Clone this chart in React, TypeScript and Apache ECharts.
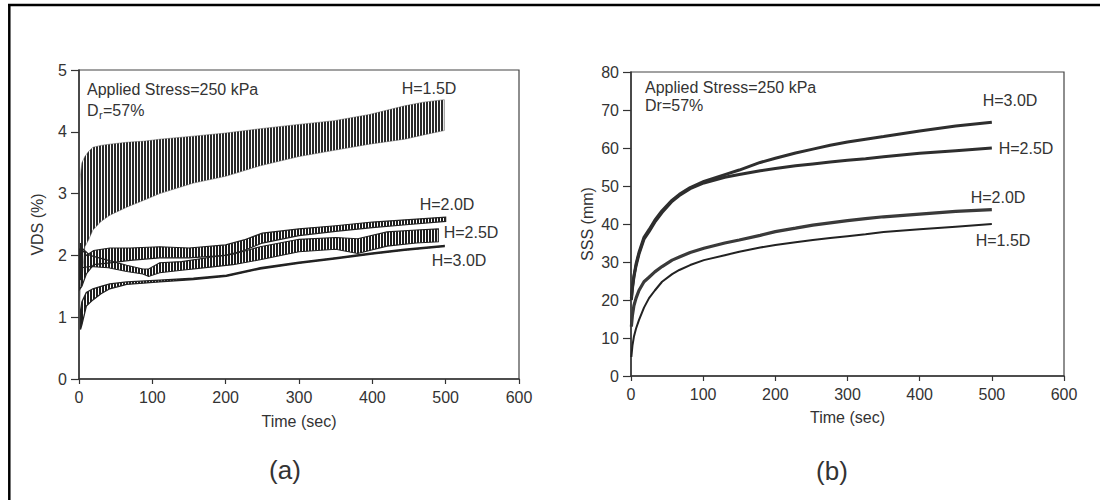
import React, { useEffect, useRef } from "react";
import * as echarts from "echarts";

// ---------- (a) VDS (%) vs time: oscillation envelopes ----------
const tA15 = [0.5, 2, 4, 8, 13, 19, 30, 42, 65, 90, 110, 156, 200, 247, 300, 348, 396, 444, 470, 498];
const hiA15 = [3.0, 3.3, 3.5, 3.6, 3.68, 3.75, 3.78, 3.8, 3.83, 3.85, 3.88, 3.93, 3.98, 4.05, 4.12, 4.18, 4.28, 4.42, 4.48, 4.52];
const loA15 = [1.0, 1.5, 1.6, 2.14, 2.25, 2.41, 2.55, 2.65, 2.78, 2.9, 3.0, 3.17, 3.28, 3.45, 3.6, 3.7, 3.8, 3.88, 3.95, 4.02];

const tA20 = [1, 4, 10, 20, 42, 70, 110, 150, 200, 225, 250, 300, 350, 400, 450, 500];
const hiA20 = [2.1, 2.1, 2.0, 2.08, 2.12, 2.12, 2.14, 2.12, 2.17, 2.25, 2.36, 2.43, 2.48, 2.54, 2.58, 2.62];
const loA20 = [1.45, 1.5, 1.7, 1.85, 1.88, 1.92, 1.96, 1.96, 2.0, 2.08, 2.2, 2.32, 2.39, 2.45, 2.5, 2.55];

const tA25 = [2, 4, 15, 40, 65, 87, 95, 110, 140, 179, 210, 247, 300, 350, 380, 420, 460, 490];
const hiA25 = [2.2, 2.12, 2.0, 1.92, 1.84, 1.78, 1.78, 1.88, 1.9, 1.97, 2.02, 2.14, 2.26, 2.29, 2.27, 2.38, 2.41, 2.43];
const loA25 = [1.6, 1.8, 1.82, 1.8, 1.74, 1.7, 1.66, 1.72, 1.76, 1.81, 1.85, 1.93, 2.06, 2.1, 2.03, 2.15, 2.2, 2.22];

const tA30 = [2, 4, 10, 19, 30, 42, 65, 110, 156, 201, 247, 300, 348, 400, 444, 498];
const hiA30 = [1.1, 1.25, 1.4, 1.46, 1.5, 1.54, 1.57, 1.6, 1.63, 1.68, 1.8, 1.89, 1.96, 2.04, 2.1, 2.16];
const loA30 = [0.8, 0.88, 1.18, 1.28, 1.38, 1.46, 1.53, 1.57, 1.61, 1.66, 1.78, 1.87, 1.94, 2.02, 2.08, 2.14];

// ---------- (b) SSS (mm) vs time ----------
const timeB = [0.5, 2, 4, 7, 11, 18, 25, 33, 43, 57, 67, 82, 101, 130, 150, 179, 200, 228, 252, 276, 300, 325, 350, 400, 450, 500];
const sssH15 = [5, 8, 10.3, 12.5, 14.7, 18, 20.5, 22.5, 24.8, 26.8, 27.9, 29.2, 30.5, 31.8, 32.7, 33.8, 34.5, 35.2, 35.8, 36.3, 36.8, 37.3, 37.9, 38.6, 39.3, 40];
const sssH20 = [13, 16, 18.5, 20.5, 22.5, 24.8, 26, 27.4, 28.8, 30.5, 31.3, 32.5, 33.6, 35, 35.8, 37, 38, 38.9, 39.7, 40.3, 40.9, 41.4, 41.9, 42.6, 43.3, 43.8];
const sssH25 = [20, 23, 26, 29, 32, 36, 38, 40.5, 43, 46, 47.5, 49.3, 50.8, 52.3, 53, 54, 54.6, 55.3, 55.8, 56.3, 56.8, 57.2, 57.7, 58.6, 59.3, 60];
const sssH30 = [20.5, 23.5, 26.3, 29.5, 32.5, 36.5, 38.5, 41, 43.5, 46.3, 47.8, 49.6, 51.2, 53, 54.2, 56.2, 57.3, 58.7, 59.7, 60.7, 61.6, 62.3, 63, 64.5, 65.8, 66.8];

const xTicksMax = 600;
const FONT = "'Liberation Sans', Arial, Helvetica, sans-serif";
const TXT = "#333";
const FS = 16;

export default function App() {
  const ref = useRef<HTMLDivElement>(null);

  useEffect(() => {
    document.body.style.margin = "0";
    if (!ref.current) return;
    const chart = echarts.init(ref.current, undefined, { renderer: "svg" });

    const makePattern = (w: number, lw: number, color: string) => {
      const cv = document.createElement("canvas");
      cv.width = w;
      cv.height = 6;
      const ctx = cv.getContext("2d");
      if (ctx) {
        ctx.fillStyle = color;
        ctx.fillRect(0, 0, lw, 6);
      }
      return { image: cv, repeat: "repeat", imageWidth: w, imageHeight: 6 } as any;
    };
    const patWide = makePattern(3, 2, "#2a2a2a");
    const patNarrow = makePattern(3, 2, "#1e1e1e");

    const band = (name: string, t: number[], lo: number[], hi: number[], fill: any, stroke: string, lw: number) => {
      const data = t.map((x, i) => [x, lo[i], hi[i]]);
      return {
        type: "custom",
        name,
        xAxisIndex: 0,
        yAxisIndex: 0,
        coordinateSystem: "cartesian2d",
        data,
        encode: { x: 0, y: [1, 2] },
        silent: true,
        renderItem: (params: any, api: any) => {
          if (params.dataIndex !== 0) return null;
          const top = data.map((d) => api.coord([d[0], d[2]]));
          const bot = data.map((d) => api.coord([d[0], d[1]])).reverse();
          return {
            type: "polygon",
            shape: { points: top.concat(bot) },
            style: { fill, stroke, lineWidth: lw },
          };
        },
      };
    };

    const lineB = (name: string, vals: number[], width: number, color: string) => ({
      type: "line",
      name,
      xAxisIndex: 1,
      yAxisIndex: 1,
      data: timeB.map((t, i) => [t, vals[i]]),
      showSymbol: false,
      lineStyle: { width, color },
      silent: true,
    });

    const axisCommon = {
      axisLine: { show: true, lineStyle: { color: "#333", width: 1.5 } },
      splitLine: { show: false },
      nameTextStyle: { fontSize: FS, color: TXT, fontFamily: FONT },
    };

    const xAxis = (gridIndex: number, nameGap: number) => ({
      ...axisCommon,
      type: "value",
      gridIndex,
      min: 0,
      max: xTicksMax,
      interval: 100,
      name: "Time (sec)",
      nameLocation: "middle",
      nameGap,
      axisTick: { show: true, inside: false, length: 5, lineStyle: { color: "#333", width: 1.2 } },
      axisLabel: { fontSize: FS, color: TXT, fontFamily: FONT, margin: 10 },
    });

    const yAxis = (gridIndex: number, name: string, max: number, interval: number, nameGap: number) => ({
      ...axisCommon,
      type: "value",
      gridIndex,
      min: 0,
      max,
      interval,
      name,
      nameLocation: "middle",
      nameGap,
      axisTick: { show: true, inside: false, length: 8, lineStyle: { color: "#333", width: 1.2 } },
      axisLabel: { fontSize: FS, color: TXT, fontFamily: FONT, margin: 12 },
    });

    const txt = (text: string, x: number, y: number, size = FS, align = "left") => ({
      type: "text",
      x,
      y,
      silent: true,
      style: { text, fill: TXT, font: `${size}px ${FONT}`, align, verticalAlign: "middle" },
    });

    chart.setOption({
      animation: false,
      backgroundColor: "#fff",
      grid: [
        { left: 79, top: 70, width: 440, height: 309, show: true, borderColor: "#444", borderWidth: 1.2, backgroundColor: "transparent" },
        { left: 631, top: 72, width: 433, height: 304, show: true, borderColor: "#444", borderWidth: 1.2, backgroundColor: "transparent" },
      ],
      xAxis: [xAxis(0, 34), xAxis(1, 33)],
      yAxis: [yAxis(0, "VDS (%)", 5, 1, 34), yAxis(1, "SSS (mm)", 80, 10, 36)],
      series: [
        band("H=1.5D", tA15, loA15, hiA15, patWide, "#555", 0.5),
        band("H=2.0D", tA20, loA20, hiA20, patNarrow, "#222", 1.2),
        band("H=2.5D", tA25, loA25, hiA25, patNarrow, "#222", 1.1),
        band("H=3.0D", tA30, loA30, hiA30, patNarrow, "#222", 1.3),
        lineB("H=1.5D", sssH15, 2, "#222"),
        lineB("H=2.0D", sssH20, 3.2, "#3a3a3a"),
        lineB("H=2.5D", sssH25, 3, "#2e2e2e"),
        lineB("H=3.0D", sssH30, 3, "#2e2e2e"),
      ],
      graphic: [
        { type: "line", silent: true, shape: { x1: 8, y1: 5, x2: 1100, y2: 5 }, style: { stroke: "#000", lineWidth: 2.5 } },
        { type: "line", silent: true, shape: { x1: 9.3, y1: 4, x2: 9.3, y2: 500 }, style: { stroke: "#000", lineWidth: 2.5 } },
        // panel (a) annotations
        txt("Applied Stress=250 kPa", 87, 89),
        txt("D", 87, 110),
        txt("r", 99, 115, 11),
        txt("=57%", 103, 110),
        txt("H=1.5D", 429, 88, FS, "center"),
        txt("H=2.0D", 447, 204, FS, "center"),
        txt("H=2.5D", 471, 232, FS, "center"),
        txt("H=3.0D", 459, 260, FS, "center"),
        txt("(a)", 285, 470, 26, "center"),
        // panel (b) annotations
        txt("Applied Stress=250 kPa", 645, 87),
        txt("Dr=57%", 645, 105),
        txt("H=3.0D", 1010, 100, FS, "center"),
        txt("H=2.5D", 1026, 148, FS, "center"),
        txt("H=2.0D", 998, 197, FS, "center"),
        txt("H=1.5D", 1003, 240, FS, "center"),
        txt("(b)", 832, 471, 26, "center"),
      ],
    });

    return () => chart.dispose();
  }, []);

  return <div ref={ref} style={{ width: 1100, height: 500 }} />;
}
